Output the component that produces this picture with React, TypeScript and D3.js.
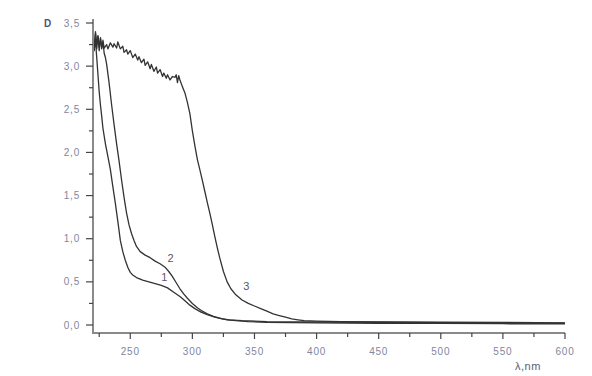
import React from "react";
import * as d3 from "d3";

const xTicks = [250, 300, 350, 400, 450, 500, 550, 600];
const xMinorTicks = [225, 275, 325, 375, 425, 475, 525, 575];
const yTicks = [0, 0.5, 1.0, 1.5, 2.0, 2.5, 3.0, 3.5];
const yMinorTicks = [0.25, 0.75, 1.25, 1.75, 2.25, 2.75, 3.25];

const curve1: [number, number][] = [[220,3.35],[221,3.2],[222,3.3],[223,3.1],[224,2.9],[225,2.7],[226,2.55],[227,2.42],[228,2.28],[230,2.1],[232,1.95],[234,1.8],[236,1.6],[238,1.41],[240,1.2],[242,0.98],[244,0.85],[246,0.75],[248,0.67],[250,0.61],[252,0.58],[255,0.55],[260,0.52],[265,0.5],[270,0.48],[275,0.46],[280,0.43],[285,0.38],[290,0.33],[294,0.28],[298,0.23],[302,0.19],[307,0.15],[312,0.12],[318,0.09],[324,0.07],[330,0.06],[340,0.05],[360,0.04],[400,0.035],[450,0.032],[500,0.028],[550,0.025],[600,0.02]];

const curve2: [number, number][] = [[220,3.3],[221,3.18],[222,3.38],[223,3.25],[224,3.35],[225,3.22],[226,3.32],[227,3.2],[228,3.28],[229,3.15],[230,3.1],[231,3.02],[233,2.8],[235,2.55],[237,2.32],[239,2.1],[241,1.9],[243,1.68],[245,1.48],[247,1.3],[249,1.16],[251,1.06],[253,0.98],[255,0.91],[258,0.85],[262,0.81],[266,0.78],[270,0.74],[274,0.71],[278,0.67],[281,0.62],[284,0.56],[287,0.49],[290,0.42],[293,0.36],[296,0.31],[300,0.25],[304,0.2],[308,0.16],[312,0.13],[317,0.1],[322,0.08],[328,0.06],[335,0.05],[345,0.04],[360,0.03],[400,0.025],[450,0.02],[500,0.018],[550,0.015],[600,0.012]];

const curve3: [number, number][] = [[220,3.36],[221,3.22],[222,3.4],[223,3.2],[224,3.35],[225,3.18],[226,3.33],[227,3.22],[228,3.3],[229,3.21],[231,3.25],[232,3.2],[234,3.27],[236,3.22],[237,3.26],[239,3.21],[240,3.28],[242,3.2],[244,3.23],[245,3.16],[247,3.19],[248,3.14],[250,3.18],[252,3.1],[254,3.14],[256,3.07],[257,3.11],[259,3.04],[261,3.08],[262,3.01],[264,3.05],[266,2.97],[267,3.02],[269,2.94],[271,2.99],[272,2.92],[274,2.96],[276,2.88],[277,2.92],[279,2.86],[280,2.9],[282,2.84],[284,2.88],[286,2.87],[287,2.9],[288,2.81],[289,2.89],[290,2.84],[292,2.76],[294,2.69],[296,2.58],[298,2.45],[300,2.25],[302,2.08],[304,1.92],[306,1.8],[308,1.68],[310,1.55],[312,1.42],[314,1.3],[316,1.17],[318,1.03],[320,0.9],[322,0.78],[325,0.62],[328,0.5],[331,0.42],[335,0.35],[340,0.29],[345,0.25],[350,0.22],[355,0.19],[360,0.16],[365,0.13],[370,0.11],[375,0.09],[380,0.07],[385,0.06],[390,0.05],[400,0.045],[420,0.04],[450,0.036],[500,0.032],[550,0.03],[600,0.025]];

const curveLabels = [
  { text: "1", x: 275, y: 0.55 },
  { text: "2", x: 280, y: 0.77 },
  { text: "3", x: 341, y: 0.45 },
];

const fmt = (v: number) => v.toFixed(1).replace(".", ",");

export default function App() {
  const x = d3.scaleLinear().domain([220, 600]).range([93, 565]);
  const y = d3.scaleLinear().domain([0, 3.5]).range([325, 23]);
  const axisY = 333;
  const axisX = 93;
  const line = d3
    .line<[number, number]>()
    .x((d) => x(d[0]))
    .y((d) => y(d[1]));
  const labelColor = "#7f86a0";
  const axisColor = "#8a8a8a";
  return (
    <svg
      width={592}
      height={376}
      style={{ position: "absolute", left: 0, top: 0, background: "#fff" }}
      fontFamily="Arial, Liberation Sans, sans-serif"
    >
      {[curve1, curve2, curve3].map((c, i) => (
        <path key={i} d={line(c) || ""} fill="none" stroke="#333" strokeWidth={1.3} strokeLinejoin="round" />
      ))}
      <line x1={axisX} x2={axisX} y1={19} y2={axisY + 1} stroke={axisColor} strokeWidth={2} />
      <line x1={axisX - 1} x2={x(600)} y1={axisY} y2={axisY} stroke={axisColor} strokeWidth={2} />
      {yTicks.map((t) => (
        <g key={"y" + t}>
          <line x1={axisX - 7} x2={axisX} y1={y(t)} y2={y(t)} stroke="#444" strokeWidth={1.2} />
          <text x={80} y={y(t)} dy="0.35em" textAnchor="end" fontSize={10} letterSpacing={0.8} fill={labelColor}>
            {fmt(t)}
          </text>
        </g>
      ))}
      {yMinorTicks.map((t) => (
        <line key={"ym" + t} x1={axisX - 4} x2={axisX} y1={y(t)} y2={y(t)} stroke="#444" strokeWidth={1.2} />
      ))}
      {xTicks.map((t) => (
        <g key={"x" + t}>
          <line x1={x(t)} x2={x(t)} y1={axisY} y2={axisY + 6} stroke="#444" strokeWidth={1.2} />
          <text x={x(t)} y={axisY + 22} textAnchor="middle" fontSize={10} letterSpacing={0.8} fill={labelColor}>
            {t}
          </text>
        </g>
      ))}
      {xMinorTicks.map((t) => (
        <line key={"xm" + t} x1={x(t)} x2={x(t)} y1={axisY} y2={axisY + 4} stroke="#444" strokeWidth={1.2} />
      ))}
      <text x={44} y={y(3.5)} dy="0.35em" fontSize={10} fontWeight="bold" fill="#4a5578">
        D
      </text>
      <text x={515} y={370} fontSize={11} letterSpacing={0.5} fill="#55607a">
        λ,nm
      </text>
      {curveLabels.map((l) => (
        <text key={l.text} x={x(l.x)} y={y(l.y)} dy="0.35em" fontSize={11} fill="#5a5570">
          {l.text}
        </text>
      ))}
    </svg>
  );
}
